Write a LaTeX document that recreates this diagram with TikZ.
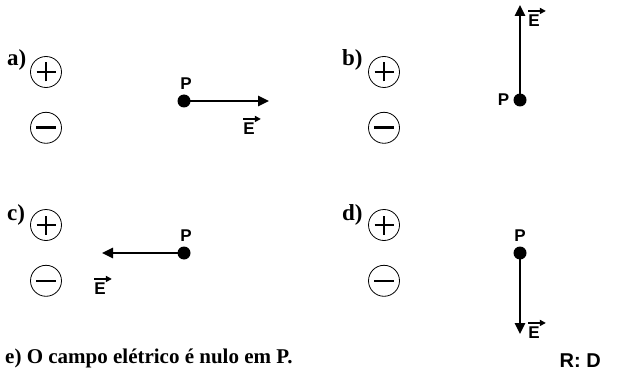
\documentclass[tikz,border=0pt]{standalone}
\usepackage{fontspec}
\setmainfont{Liberation Serif}
\newfontfamily\arialfont{Liberation Sans}
\usetikzlibrary{arrows.meta,positioning}

\begin{document}
\begin{tikzpicture}[x=1pt,y=-1pt]
\tikzset{
  tag/.style={font=\fontsize{23}{27}\selectfont\bfseries,inner sep=0pt,anchor=base west},
  charge/.style={circle,draw,line width=0.8pt,minimum size=31pt,inner sep=0pt},
  poscharge/.style={charge,path picture={
      \draw[line width=2.4pt](path picture bounding box.center)++(-9.5pt,0)--++(19pt,0);
      \draw[line width=2.4pt](path picture bounding box.center)++(0,-9.5pt)--++(0,19pt);}},
  negcharge/.style={charge,path picture={
      \draw[line width=2.6pt](path picture bounding box.center)++(-10pt,0)--++(20pt,0);}},
  dot/.style={circle,fill,minimum size=13pt,inner sep=0pt},
  plbl/.style={font=\arialfont\fontsize{17}{19}\selectfont\bfseries,inner sep=0pt},
  field/.style={line width=2.5pt,-{Triangle[length=11pt,width=10pt]}},
  vec/.style={line width=1.5pt,-{Triangle[length=6pt,width=6pt]}}
}
\useasboundingbox (0,0) rectangle (618,385);

% a)
\node(la)[tag] at (7,66){a)};
\node(pa)[poscharge] at (46,72){};
\node(na)[negcharge,below=24pt of pa]{};
\node(Pa)[dot] at (184,101){};
\coordinate(ta) at (269,101);
\draw[field](Pa.center)--(ta);
\node(pla)[plbl,above=5pt of Pa,xshift=2pt]{P};
\node(Ea)[plbl] at (249,129){E};
\draw[vec]([yshift=4pt]Ea.north west)--([xshift=6pt,yshift=4pt]Ea.north east);

% b)
\node(lb)[tag] at (342,66){b)};
\node(pb)[poscharge] at (384,72){};
\node(nb)[negcharge,below=24pt of pb]{};
\node(Pb)[dot] at (520,100){};
\coordinate(tb) at (520,5);
\draw[field](Pb.center)--(tb);
\node(plb)[plbl,left=4pt of Pb]{P};
\node(Eb)[plbl] at (534,21){E};
\draw[vec]([yshift=4pt]Eb.north west)--([xshift=6pt,yshift=4pt]Eb.north east);

% c)
\node(lc)[tag] at (7,220){c)};
\node(pc)[poscharge] at (46,225){};
\node(nc)[negcharge,below=24pt of pc]{};
\node(Pc)[dot] at (184,253){};
\coordinate(tc) at (102,253);
\draw[field](Pc.center)--(tc);
\node(plc)[plbl,above=5pt of Pc,xshift=2pt]{P};
\node(Ec)[plbl] at (100,289){E};
\draw[vec]([yshift=4pt]Ec.north west)--([xshift=6pt,yshift=4pt]Ec.north east);

% d)
\node(ld)[tag] at (342,220){d)};
\node(pd)[poscharge] at (384,225){};
\node(nd)[negcharge,below=24pt of pd]{};
\node(Pd)[dot] at (520,253){};
\coordinate(td) at (520,334);
\draw[field](Pd.center)--(td);
\node(pld)[plbl,above=5pt of Pd]{P};
\node(Ed)[plbl] at (534,333){E};
\draw[vec]([yshift=4pt]Ed.north west)--([xshift=6pt,yshift=4pt]Ed.north east);

% e) and answer
\node(le)[tag,font=\fontsize{21}{25}\selectfont\bfseries] at (5,363){e) O campo elétrico é nulo em P.};
\node(ans)[plbl,font=\arialfont\fontsize{20}{24}\selectfont\bfseries,anchor=base east] at (601,367){R: D};
\end{tikzpicture}
\end{document}
